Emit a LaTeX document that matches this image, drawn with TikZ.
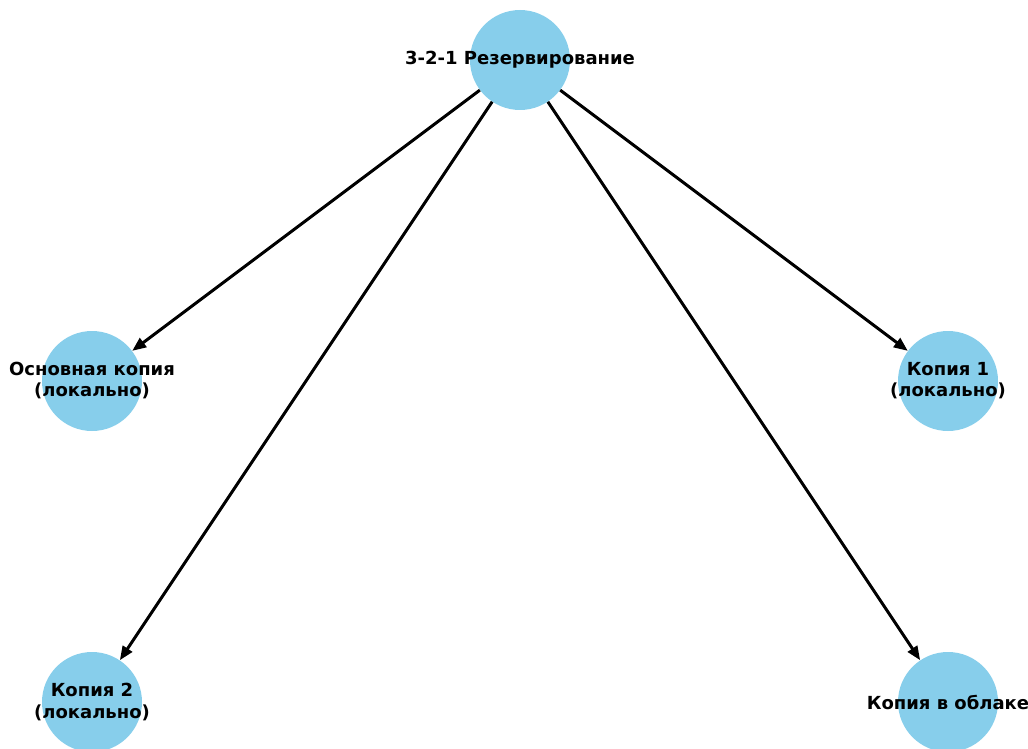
\documentclass[tikz,border=0pt]{standalone}
\usepackage{fontspec}
\setmainfont{DejaVu Sans}
\usetikzlibrary{arrows.meta}
\definecolor{skyblue}{HTML}{87CEEB}
\tikzset{
  vertex/.style={circle, fill=skyblue, minimum size=100pt, inner sep=0pt},
  caption/.style={font=\bfseries\fontsize{18pt}{21pt}\selectfont, align=center, inner sep=0pt},
  edge/.style={-{Triangle[length=14pt,width=11pt]}, line width=3pt}
}
\begin{document}
\begin{tikzpicture}[x=1pt,y=-1pt]
  \useasboundingbox (0,0) rectangle (1028,749);
  \node [vertex] (r) at (520,60) {};
  \node [vertex] (main) at (92,381) {};
  \node [vertex] (c1) at (948,381) {};
  \node [vertex] (c2) at (92,702) {};
  \node [vertex] (cloud) at (948,702) {};

  \draw [edge] (r) -- (main);
  \draw [edge] (r) -- (c1);
  \draw [edge] (r) -- (c2);
  \draw [edge] (r) -- (cloud);

  \node [caption] (r-t) at (r) {3-2-1 Резервирование};
  \node [caption] (main-t) at (main) {Основная копия\\(локально)};
  \node [caption] (c1-t) at (c1) {Копия 1\\(локально)};
  \node [caption] (c2-t) at (c2) {Копия 2\\(локально)};
  \node [caption] (cloud-t) at (cloud) {Копия в облаке};
\end{tikzpicture}
\end{document}
